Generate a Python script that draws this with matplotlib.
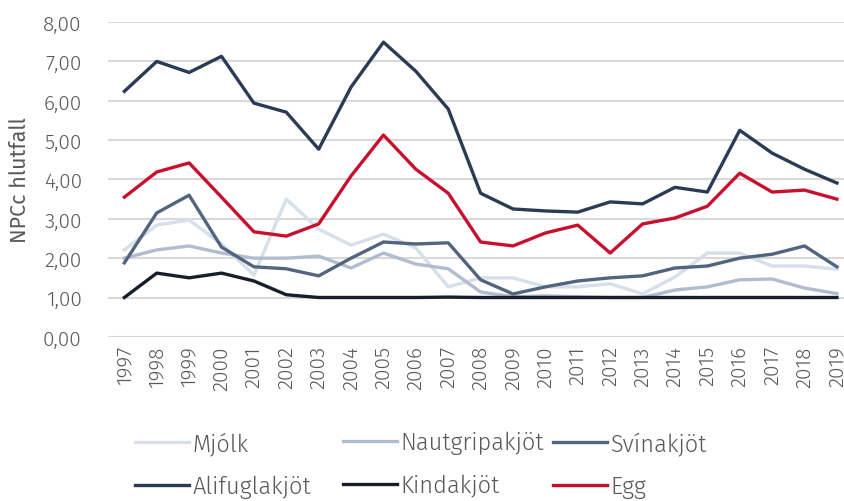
import numpy as np
import matplotlib
matplotlib.use("Agg")
import matplotlib.pyplot as plt
from matplotlib.ticker import FuncFormatter

plt.rcParams['font.family'] = ['Fira Sans', 'DejaVu Sans']
plt.rcParams['font.weight'] = 300

years = list(range(1997, 2020))

mjolk = [2.21, 2.84, 2.97, 2.36, 1.57, 3.50, 2.74, 2.33, 2.61, 2.26, 1.27, 1.50,
         1.50, 1.27, 1.27, 1.35, 1.09, 1.52, 2.13, 2.13, 1.80, 1.80, 1.72]
naut = [2.00, 2.21, 2.31, 2.13, 2.00, 2.00, 2.05, 1.75, 2.13, 1.85, 1.73, 1.14,
        1.02, 1.04, 1.02, 1.00, 1.00, 1.19, 1.27, 1.45, 1.47, 1.24, 1.10]
svina = [1.88, 3.15, 3.60, 2.28, 1.78, 1.73, 1.55, 2.00, 2.41, 2.36, 2.39, 1.45,
         1.09, 1.27, 1.42, 1.50, 1.55, 1.75, 1.80, 2.00, 2.10, 2.31, 1.78]
alifugl = [6.24, 7.00, 6.72, 7.13, 5.94, 5.71, 4.77, 6.35, 7.49, 6.75, 5.79, 3.65,
           3.25, 3.20, 3.17, 3.43, 3.38, 3.80, 3.68, 5.25, 4.67, 4.26, 3.91]
kinda = [1.00, 1.62, 1.50, 1.62, 1.42, 1.07, 1.00, 1.00, 1.00, 1.00, 1.01, 1.00,
         1.00, 1.00, 1.00, 1.00, 1.00, 1.00, 1.00, 1.00, 1.00, 1.00, 1.00]
egg = [3.55, 4.19, 4.42, 3.55, 2.67, 2.56, 2.87, 4.09, 5.13, 4.26, 3.65, 2.41,
       2.31, 2.64, 2.84, 2.13, 2.87, 3.02, 3.32, 4.16, 3.68, 3.73, 3.50]

names = ['Mjólk', 'Nautgripakjöt', 'Svínakjöt', 'Alifuglakjöt', 'Kindakjöt', 'Egg']
series = [mjolk, naut, svina, alifugl, kinda, egg]
colors = ['#d6dfea', '#b2bccf', '#52657f', '#2b3b55', '#161e2c', '#c8102e']

grey = '#595959'

fig = plt.figure(figsize=(8.45, 5.02), dpi=100)
ax = fig.add_axes([0.128, 0.327, 0.872, 0.627])

x = np.arange(len(years))
lines = []
for name, vals, c in zip(names, series, colors):
    ln, = ax.plot(x, vals, color=c, lw=2.4, label=name)
    lines.append(ln)

ax.set_ylim(0, 8)
ax.set_xlim(-0.5, 22.25)
ax.set_yticks(np.arange(0, 9, 1))
ax.yaxis.set_major_formatter(FuncFormatter(lambda v, p: f"{v:.2f}".replace('.', ',')))
ax.set_xticks(x)
ax.set_xticklabels([str(y) for y in years], rotation=90)
ax.grid(axis='y', color='#d9d9d9', lw=1.5)
ax.set_axisbelow(True)
for s in ax.spines.values():
    s.set_visible(False)
ax.tick_params(length=0, labelsize=15, colors=grey, pad=6)
ax.tick_params(axis='y', pad=19)
ax.set_ylabel('NPCc hlutfall', fontsize=15.5, color=grey)
ax.yaxis.set_label_coords(-0.106, 0.5)

# legend: three columns placed separately
col_x = [0.1456, 0.392, 0.640]
for i, cx in enumerate(col_x):
    leg = fig.legend([lines[i], lines[i + 3]], [names[i], names[i + 3]],
                     loc='upper left', bbox_to_anchor=(cx, 0.163),
                     frameon=False, handlelength=2.3,
                     prop={'family': 'Fira Sans', 'weight': 300, 'size': 17},
                     handletextpad=0.13, labelspacing=0.85, borderpad=0)
    for t in leg.get_texts():
        t.set_color(grey)

fig.savefig('out.png', dpi=100)
